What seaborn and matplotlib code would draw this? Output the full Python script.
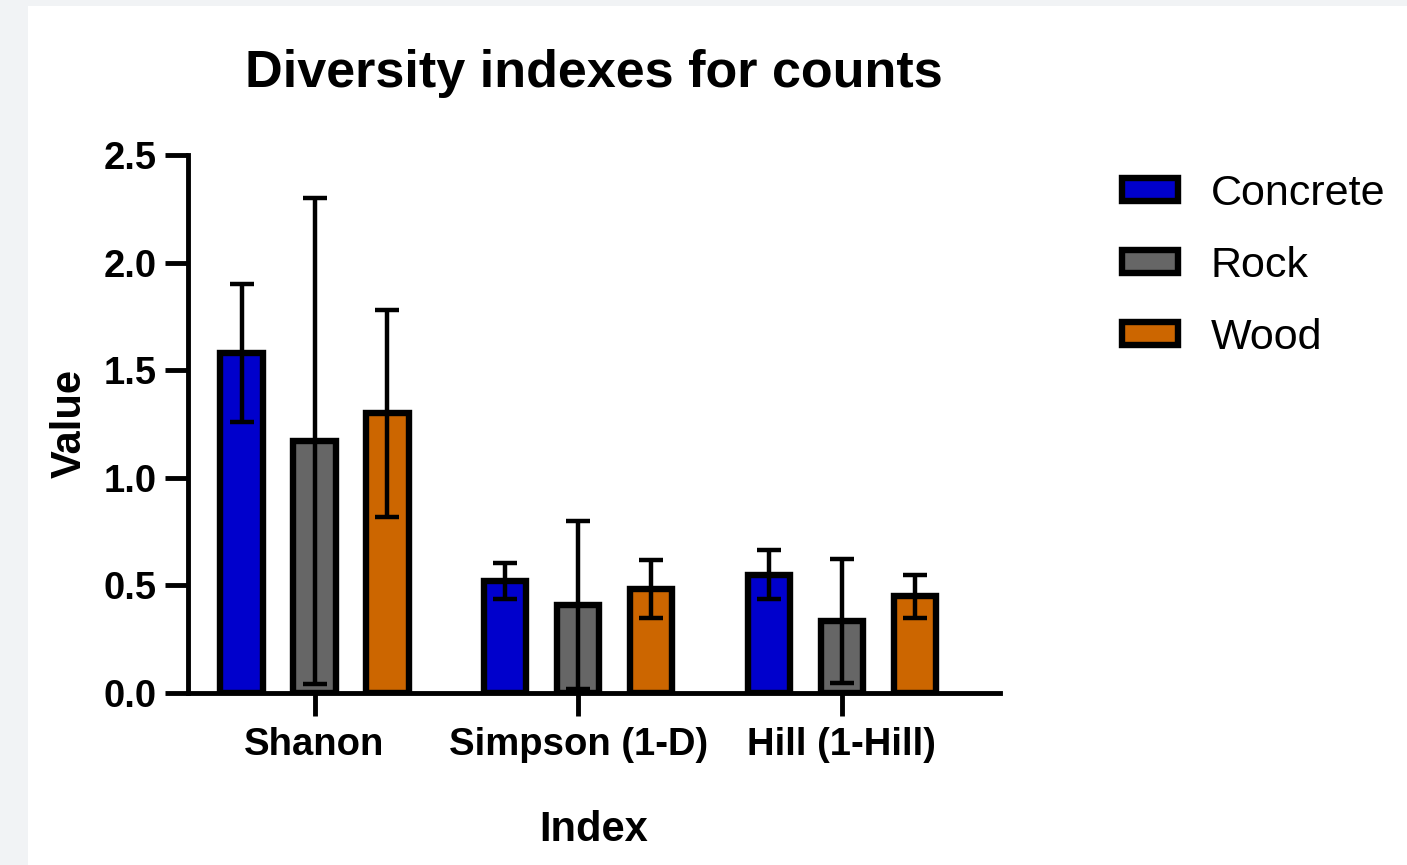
import matplotlib
matplotlib.use("Agg")
import matplotlib.pyplot as plt
import matplotlib.patches as mpatches
import numpy as np
import pandas as pd
import seaborn as sns

# Diversity index means and their error half-widths per substrate
indexes = ["Shanon", "Simpson (1-D)", "Hill (1-Hill)"]
substrates = ["Concrete", "Rock", "Wood"]
concrete_mean = [1.58, 0.52, 0.55]
rock_mean = [1.17, 0.41, 0.335]
wood_mean = [1.30, 0.485, 0.45]
concrete_err = [0.32, 0.085, 0.115]
rock_err = [1.13, 0.39, 0.29]
wood_err = [0.48, 0.135, 0.10]
y_ticks = [0.0, 0.5, 1.0, 1.5, 2.0, 2.5]

palette = {"Concrete": "#0000cc", "Rock": "#666666", "Wood": "#cc6600"}

means = {"Concrete": concrete_mean, "Rock": rock_mean, "Wood": wood_mean}
errs = {"Concrete": concrete_err, "Rock": rock_err, "Wood": wood_err}

df = pd.DataFrame(
    [(idx, s, means[s][i]) for s in substrates for i, idx in enumerate(indexes)],
    columns=["Index", "Substrate", "Value"],
)

sns.set_theme(style="ticks")
plt.rcParams["font.family"] = ["Liberation Sans", "DejaVu Sans"]
plt.rcParams.update({"text.color": "black", "axes.labelcolor": "black",
                     "xtick.color": "black", "ytick.color": "black"})

fig = plt.figure(figsize=(14.07, 8.65), dpi=100)
fig.patch.set_facecolor("#f1f3f5")
# white panel behind the chart
panel = mpatches.Rectangle((28 / 1407, 0), 1 - 28 / 1407, 1 - 6 / 865,
                           transform=fig.transFigure, facecolor="white",
                           edgecolor="none", zorder=-10)
fig.add_artist(panel)

ax = fig.add_axes([188 / 1407, 1 - 693 / 865, (1000 - 188) / 1407, (693 - 155) / 865])
ax.set_zorder(5)
ax.set_facecolor("none")

edge_lw = 4.6
sns.barplot(data=df, x="Index", y="Value", hue="Substrate", order=indexes,
            hue_order=substrates, palette=palette, errorbar=None,
            width=0.83, gap=0.42, edgecolor="black", linewidth=edge_lw,
            saturation=1, ax=ax, zorder=2)

# error bars placed on the centres of the drawn bars
containers = ax.containers
for s, cont in zip(substrates, containers):
    xs = [p.get_x() + p.get_width() / 2 for p in cont.patches]
    ys = [p.get_height() for p in cont.patches]
    ax.errorbar(xs, ys, yerr=errs[s], fmt="none", ecolor="black",
                elinewidth=3.2, capsize=8.3, capthick=3.2, zorder=3)

ax.set_ylim(0, 2.5)
ax.set_xlim(-0.48, 2.6)
ax.set_yticks(y_ticks)
ax.set_yticklabels([f"{t:.1f}" for t in y_ticks])

for side in ["top", "right"]:
    ax.spines[side].set_visible(False)
for side in ["left", "bottom"]:
    ax.spines[side].set_linewidth(3.5)
    ax.spines[side].set_color("black")
ax.spines["left"].set_capstyle("projecting")

ax.tick_params(axis="both", length=16.5, width=3.5, color="black",
               labelsize=27.5, pad=6)
ax.tick_params(axis="x", pad=8)
for lab in ax.get_xticklabels() + ax.get_yticklabels():
    lab.set_fontweight("bold")

ax.set_xlabel("Index", fontsize=30, fontweight="bold", labelpad=34)
ax.set_ylabel("Value", fontsize=30, fontweight="bold", labelpad=10)
ax.set_title("Diversity indexes for counts", fontsize=37.5, fontweight="bold", pad=49)

leg = ax.legend(loc="upper left", bbox_to_anchor=(1105 / 1407, 1 - 157 / 865),
                bbox_transform=fig.transFigure, frameon=False, fontsize=31,
                handlelength=1.3, handleheight=0.44, handletextpad=0.75,
                labelspacing=0.74, borderaxespad=0)
for h in leg.legend_handles:
    h.set_linewidth(edge_lw)
    h.set_edgecolor("black")

fig.savefig("out.png", dpi=100, facecolor=fig.get_facecolor())
